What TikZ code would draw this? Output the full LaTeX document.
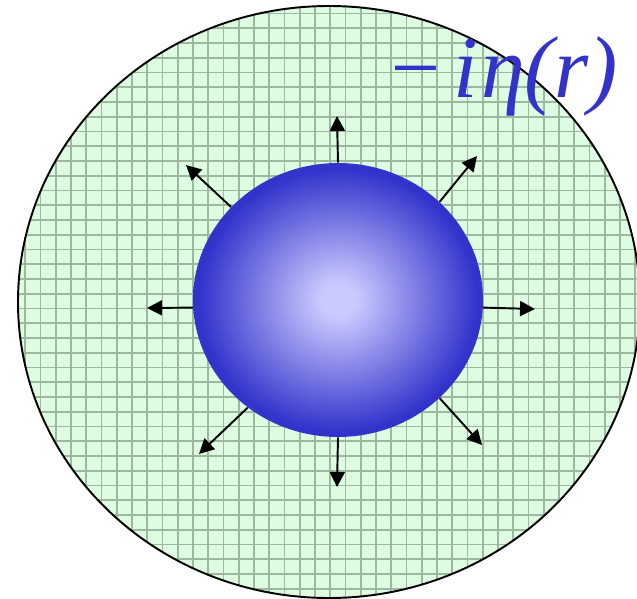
\documentclass[tikz,border=0pt]{standalone}
\usepackage{fontspec}
\newfontfamily\labelfont{Liberation Serif}
\usetikzlibrary{shapes.geometric, arrows.meta}
\definecolor{ballrim}{RGB}{51, 51, 204}
\definecolor{ballcore}{RGB}{202, 202, 255}
\definecolor{mediumgreen}{RGB}{222, 252, 226}
\definecolor{gridgreen}{RGB}{158, 184, 158}
\pgfdeclareradialshading{blueball}{\pgfpoint{0bp}{0bp}}{color(0bp)=(ballcore); color(3bp)=(ballcore); color(24bp)=(ballrim); color(50bp)=(ballrim)}

\begin{document}
\begin{tikzpicture}[x=0.02cm, y=-0.02cm,
  outarrow/.style={-{Triangle[length=8.5pt, width=8.5pt]}, line width=1.1pt},
  gridline/.style={gridgreen, line width=0.9pt}]
  \useasboundingbox (0,0) rectangle (637,599);
  % absorbing medium
  \fill[mediumgreen] (329,302) ellipse [x radius=311, y radius=296];
  \begin{scope}
    \clip (329,302) ellipse [x radius=311, y radius=296];
    \foreach \k in {0,...,42} \draw[gridline] (10+\k*15.25,0) -- (10+\k*15.25,599);
    \foreach \k in {0,...,40} \draw[gridline] (0,13.5+\k*14.75) -- (637,13.5+\k*14.75);
  \end{scope}
  \draw[line width=1.1pt] (329,302) ellipse [x radius=311, y radius=296];
  % scatterer
  \node[ellipse, shading=blueball, minimum width=5.8cm, minimum height=5.48cm, inner sep=0pt] (ball) at (338,300) {};
  \foreach \ang/\tx/\ty [count=\n] in {90/337/116, 44/477/156, 139/186/165, 183/147/308, 357/535/309, 230/199/454, 316/482/445, 270/337/487} {
    \coordinate (tip\n) at (\tx,\ty);
    \draw[outarrow] (ball.\ang) -- (tip\n);
  }
  \node[anchor=base west, inner sep=0pt, text=ballrim, font=\labelfont\itshape\fontsize{50}{50}\selectfont] (potential) at (385,97) {−\hspace{5pt}i\hspace{2pt}η(r)};
\end{tikzpicture}
\end{document}
